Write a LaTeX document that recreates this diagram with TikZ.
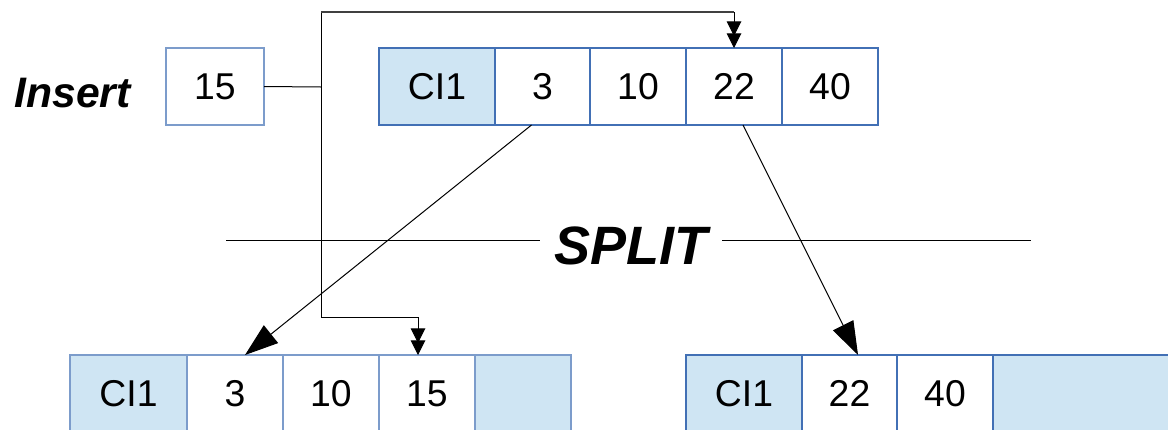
\documentclass[tikz,border=0pt]{standalone}
\usepackage{fontspec}
\setmainfont{Liberation Sans}
\usetikzlibrary{arrows.meta,calc}
\definecolor{cellfill}{HTML}{CFE5F3}
\definecolor{cellline}{HTML}{4270B5}
\definecolor{lightline}{HTML}{7C9CCB}
\tikzset{
  cell/.style={draw=cellline, line width=0.9pt, rectangle, inner sep=0pt, outer sep=0pt,
    minimum height=57.75pt, font=\fontsize{28}{30}\selectfont},
  keycell/.style={cell, fill=cellfill},
  conn/.style={line width=0.75pt, black},
  smallhead/.style={-{Triangle[length=11pt,width=11pt,sep=-2pt]Triangle[length=11pt,width=11pt]}},
  bighead/.style={-{Triangle[length=25pt,width=17pt]}},
  biglabel/.style={font=\fontsize{40.5}{44}\selectfont\bfseries\itshape, inner sep=0pt},
}
\begin{document}
\begin{tikzpicture}[x=0.75pt,y=-0.75pt]
\useasboundingbox (0,0) rectangle (1168,429);
\clip (0,0) rectangle (1168,429);
% Insert label and box
\node[font=\fontsize{32}{34}\selectfont\bfseries\itshape, inner sep=0pt] (insert) at (72.5,93) {Insert};
\node[cell, draw=lightline, minimum width=73.5pt] (i15) at (215,86.5) {15};
% top row
\node[keycell, minimum width=87pt] (tci) at (437,86.5) {CI1};
\node[cell, minimum width=71.25pt] (t3) at (542.5,86.5) {3};
\node[cell, minimum width=72pt] (t10) at (638,86.5) {10};
\node[cell, minimum width=72pt] (t22) at (734,86.5) {22};
\node[cell, minimum width=72pt] (t40) at (830,86.5) {40};
% bottom left
\node[keycell, draw=lightline, minimum width=87.75pt] (bci) at (128.5,393.5) {CI1};
\node[cell, draw=lightline, minimum width=72pt] (b3) at (235,393.5) {3};
\node[cell, draw=lightline, minimum width=72pt] (b10) at (331,393.5) {10};
\node[cell, draw=lightline, minimum width=72pt] (b15) at (427,393.5) {15};
\node[keycell, draw=lightline, minimum width=72pt] (bx) at (523,393.5) {};
% bottom right
\node[keycell, minimum width=87pt] (rci) at (744,393.5) {CI1};
\node[cell, minimum width=71.25pt] (r22) at (849.5,393.5) {22};
\node[cell, minimum width=72pt] (r40) at (945,393.5) {40};
\node[keycell, minimum width=140.25pt] (rx) at (1086.5,393.5) {};
% SPLIT
\node[biglabel] (split) at (631,246) {SPLIT};
\coordinate (sl1) at (226,240);
\coordinate (sl2) at (540,240);
\coordinate (sr1) at (722,240);
\coordinate (sr2) at (1031,240);
\draw[conn] (sl1) -- (sl2);
\draw[conn] (sr1) -- (sr2);
% insert connectors
\coordinate (j) at (321,87);
\draw[conn] (i15.east) -- (j);
\draw[conn] (j) -- (321,12);
\draw[line width=1.3pt, black!75] (321,12) -- ([yshift=27pt]t22.north);
\draw[conn, smallhead] ([yshift=27pt]t22.north) -- (t22.north);
\draw[conn, smallhead] (j) |- ([xshift=-6.75pt,yshift=28.5pt]b15.north) -- ([xshift=-6.75pt]b15.north);
% split arrows
\draw[conn, bighead] ([xshift=-8.25pt]t3.south) -- ([xshift=7.5pt]b3.north);
\draw[conn, bighead] ([xshift=6.75pt]t22.south) -- ([xshift=6.4pt]r22.north);
\end{tikzpicture}
\end{document}
